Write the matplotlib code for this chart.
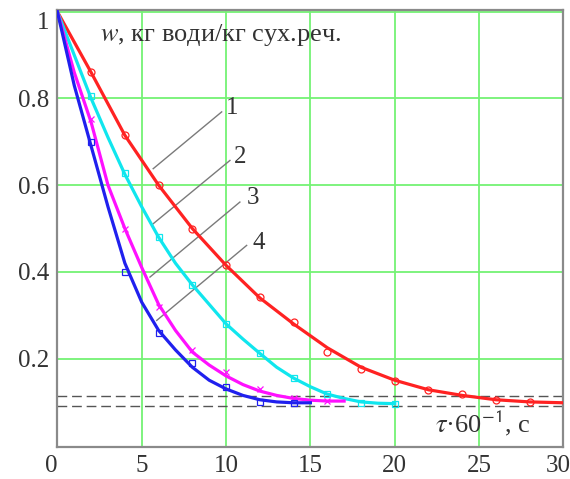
import matplotlib
matplotlib.use("Agg")
import matplotlib.pyplot as plt
from matplotlib.transforms import ScaledTranslation

plt.rcParams['font.family'] = ['Liberation Serif', 'DejaVu Serif']
plt.rcParams['mathtext.fontset'] = 'stix'

# curve 1 (red), fitted line and experimental points
x1_line = [0, 2, 4, 6, 8, 10, 12, 14, 16, 18, 20, 22, 24, 26, 28, 30]
y1_line = [1.0, 0.86, 0.715, 0.60, 0.50, 0.415, 0.34, 0.28, 0.225, 0.18, 0.15, 0.128, 0.115, 0.105, 0.10, 0.098]
x1_pts = [2, 4, 6, 8, 10, 12, 14, 16, 18, 20, 22, 24, 26, 28]
y1_pts = [0.861, 0.715, 0.600, 0.500, 0.415, 0.342, 0.284, 0.215, 0.177, 0.148, 0.128, 0.119, 0.105, 0.100]

# curve 2 (cyan)
x2_line = [0, 1, 2, 3, 4, 5, 6, 7, 8, 9, 10, 11, 12, 13, 14, 15, 16, 17, 18, 19, 20]
y2_line = [1.0, 0.90, 0.80, 0.71, 0.625, 0.55, 0.48, 0.42, 0.37, 0.325, 0.28, 0.245, 0.212, 0.18, 0.155,
           0.135, 0.118, 0.108, 0.10, 0.097, 0.096]
x2_pts = [2, 4, 6, 8, 10, 12, 14, 16, 18, 20]
y2_pts = [0.805, 0.628, 0.48, 0.369, 0.280, 0.212, 0.156, 0.118, 0.098, 0.096]

# curve 3 (magenta)
x3_line = [0, 1, 2, 3, 4, 5, 6, 7, 8, 9, 10, 11, 12, 13, 14, 15, 16, 17]
y3_line = [1.0, 0.86, 0.745, 0.60, 0.50, 0.41, 0.325, 0.265, 0.215, 0.185, 0.16, 0.14, 0.125, 0.115, 0.108,
           0.104, 0.102, 0.102]
x3_pts = [2, 4, 6, 8, 10, 12, 14, 16]
y3_pts = [0.752, 0.50, 0.32, 0.22, 0.168, 0.13, 0.11, 0.102]

# curve 4 (blue)
x4_line = [0, 1, 2, 3, 4, 5, 6, 7, 8, 9, 10, 11, 12, 13, 14, 15]
y4_line = [1.0, 0.83, 0.69, 0.55, 0.42, 0.33, 0.265, 0.22, 0.18, 0.15, 0.13, 0.115, 0.105, 0.10, 0.098, 0.098]
x4_pts = [2, 4, 6, 8, 10, 12, 14]
y4_pts = [0.70, 0.40, 0.26, 0.189, 0.134, 0.10, 0.097]

# equilibrium moisture band
w_band = [0.113, 0.090]

x_ticks = [0, 5, 10, 15, 20, 25, 30]
y_ticks = [0.2, 0.4, 0.6, 0.8, 1.0]
y_ticklabels = ['0.2', '0.4', '0.6', '0.8', '1']

# curve number labels: (text, label pos, leader start, leader end)
numbers = [
    ('1', (10.33, 0.777), (9.74, 0.769), (5.68, 0.638)),
    ('2', (10.82, 0.665), (10.23, 0.657), (5.68, 0.511)),
    ('3', (11.61, 0.570), (10.82, 0.561), (5.49, 0.388)),
    ('4', (11.91, 0.466), (11.22, 0.461), (5.89, 0.288)),
]

fig = plt.figure(figsize=(5.7, 4.79), dpi=100)
ax = fig.add_axes([0.1007, 0.0668, 0.8877, 0.9123])

ax.grid(True, color='#74f274', lw=1.3)
ax.set_axisbelow(True)

for y in w_band:
    ax.plot([0, 30], [y, y], color='#555555', lw=1.0, dashes=(7, 3.5), zorder=2)

ax.plot(x1_line, y1_line, color='#ff2222', lw=2.3, zorder=3)
ax.plot(x1_pts, y1_pts, 'o', mfc='none', mec='#ff2222', ms=5, mew=0.9, zorder=3)
ax.plot(x2_line, y2_line, color='#10e6ee', lw=2.3, zorder=3)
ax.plot(x2_pts, y2_pts, 's', mfc='none', mec='#10e6ee', ms=5, mew=0.9, zorder=3)
ax.plot(x3_line, y3_line, color='#ff10ff', lw=2.3, zorder=3)
ax.plot(x3_pts, y3_pts, 'x', color='#ff10ff', ms=5, mew=0.9, zorder=3)
ax.plot(x4_line, y4_line, color='#2020ee', lw=2.3, zorder=3)
ax.plot(x4_pts, y4_pts, 's', mfc='none', mec='#2020ee', ms=5, mew=0.9, zorder=3)

for txt, pos, p0, p1 in numbers:
    ax.plot([p0[0], p1[0]], [p0[1], p1[1]], color='#7a7a7a', lw=1.0, zorder=2)
    ax.text(pos[0], pos[1], txt, fontsize=18, ha='center', va='center', color='#333333')

ax.text(2.5, 0.946, r'$w$, кг води/кг сух.реч.', fontsize=19, ha='left', va='center', color='#333333')
ax.text(22.4, 0.05, r'$\tau$·60$^{\mathsf{-1}}$, с', fontsize=19, ha='left', va='center', color='#333333')

ax.set_xlim(0, 30)
ax.set_ylim(-0.004, 1.004)
ax.set_xticks(x_ticks)
ax.set_yticks(y_ticks)
ax.set_yticklabels(y_ticklabels)
ax.tick_params(length=0, labelsize=18, labelcolor='#333333')
ax.tick_params(axis='x', pad=6)
ax.tick_params(axis='y', pad=6)
ax.get_yticklabels()[-1].set_va('top')
ax.get_xticklabels()[0].set_ha('right')
last = ax.get_xticklabels()[-1]
last.set_ha('right')
last.set_transform(last.get_transform() + ScaledTranslation(5 / 72, 0, fig.dpi_scale_trans))

for s in ax.spines.values():
    s.set_color('#8a8a8a')
    s.set_linewidth(1.6)

plt.savefig('out.png', dpi=100)
